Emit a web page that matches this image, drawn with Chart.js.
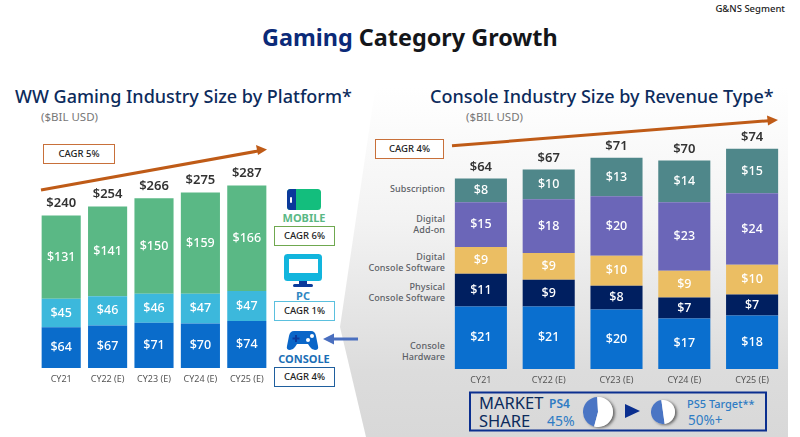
<!DOCTYPE html>
<html>
<head>
<meta charset="utf-8">
<script src="https://cdn.jsdelivr.net/npm/chart.js@4/dist/chart.umd.min.js"></script>
<style>
  html, body { margin: 0; padding: 0; background: #fff; }
  #page { position: relative; width: 800px; height: 437px; overflow: hidden; font-family: "Noto Sans", sans-serif; color: #222; }
  #page > * { position: absolute; }
  .t { white-space: nowrap; line-height: 1; }
  .heading { font-size: 18px; font-weight: 500; color: #0c2b5c; }
  .unit { font-size: 11.5px; color: #777; }
  .cagr { box-sizing: border-box; background: #fff; border: 1.5px solid #000; font-size: 9.5px; font-weight: 500; text-align: center; color: #222; }
  .plat { font-size: 11px; font-weight: 700; transform: translateX(-50%); }
  .row { font-size: 9px; font-weight: 500; color: #5c5f66; text-align: right; line-height: 10.5px; letter-spacing: .1px; white-space: nowrap; right: 355px; }
  .ms { color: #2f7cc4; }
</style>
</head>
<body>
<div id="page">
  <div style="left:0;top:0;width:800px;height:437px;background:linear-gradient(180deg,#fff 20%,#f3f3f3 50%,#dcdcdc 85%,#d8d8d8 100%);clip-path:polygon(378px 70px,788px 70px,788px 437px,366px 437px,340px 327px);"></div>

  <div class="t" style="right:15px;top:4px;font-size:9.5px;font-weight:500;color:#222;">G&amp;NS Segment</div>
  <div class="t" style="left:262px;top:26px;font-size:23.4px;font-weight:700;color:#14161a;"><span style="color:#0b2a78;">Gaming</span> Category Growth</div>

  <div class="t heading" style="left:15px;top:87px;">WW Gaming Industry Size by Platform*</div>
  <div class="t unit" style="left:41px;top:111px;">($BIL USD)</div>
  <div class="t heading" style="left:430px;top:87px;">Console Industry Size by Revenue Type*</div>
  <div class="t unit" style="left:466px;top:111px;">($BIL USD)</div>

  <svg style="left:0;top:0;" width="800" height="437">
    <!-- fleches CAGR -->
    <line x1="41" y1="190" x2="258" y2="151" stroke="#bf5b17" stroke-width="3"/>
    <polygon points="267,149.5 256,145 258,155" fill="#bf5b17"/>
    <line x1="452" y1="145.8" x2="769" y2="120.7" stroke="#bf5b17" stroke-width="3"/>
    <polygon points="778,120 767,115.5 768,125.5" fill="#bf5b17"/>

    <!-- icone mobile -->
    <rect x="287" y="189" width="34" height="21" rx="3.5" fill="#13be7d"/>
    <path d="M296 189 h-5.5 a3.5 3.5 0 0 0 -3.5 3.5 v14 a3.5 3.5 0 0 0 3.5 3.5 h5.5 z" fill="#0b3a9b"/>
    <rect x="290" y="197" width="2" height="6" rx="1" fill="#fff"/>
    <!-- icone pc -->
    <rect x="284" y="254" width="38" height="27" rx="3.5" fill="#12b5dd"/>
    <rect x="289" y="259" width="29" height="14" fill="#fff"/>
    <rect x="299" y="281" width="8" height="4" fill="#0b3a9b"/>
    <rect x="293" y="284" width="20" height="3" rx="1.5" fill="#0b3a9b"/>
    <!-- icone console -->
    <path d="M294 331 h17 q4 0 5 5 l2 10 q1 4 -3 4 q-3 0 -5 -3 l-2 -3 h-11 l-2 3 q-2 3 -5 3 q-4 0 -3 -4 l2 -10 q1 -5 5 -5 z" fill="#0a66c8"/>
    <rect x="295" y="335" width="2" height="7" fill="#0b3a9b"/>
    <rect x="292.5" y="337.5" width="7" height="2" fill="#0b3a9b"/>
    <circle cx="312" cy="336" r="2" fill="#fff"/>
    <circle cx="308" cy="340" r="2" fill="#fff"/>
    <!-- fleche vers console -->
    <line x1="358" y1="339" x2="332" y2="339" stroke="#4a6fbf" stroke-width="3"/>
    <polygon points="323,339 334,333.5 334,344.5" fill="#4a6fbf"/>

    <!-- cadre part de marche -->
    <rect x="470" y="392.5" width="296" height="38" fill="none" stroke="#0b2f8f" stroke-width="2"/>
    <polygon points="625,404 640,411 625,418" fill="#0b2f8f"/>
  </svg>

  <div class="cagr" style="left:43px;top:144px;width:72px;height:20px;line-height:17px;border-color:#c8703a;">CAGR 5%</div>
  <div class="cagr" style="left:375px;top:139px;width:69px;height:20px;line-height:17px;border-color:#c8703a;">CAGR 4%</div>

  <div class="t plat" style="left:304px;top:212px;color:#5ab885;">MOBILE</div>
  <div class="cagr" style="left:274px;top:226px;width:61px;height:20px;line-height:17px;border-color:#6fa84f;">CAGR 6%</div>
  <div class="t plat" style="left:303px;top:290px;color:#2e86c1;">PC</div>
  <div class="cagr" style="left:274px;top:301px;width:61px;height:20px;line-height:17px;border-color:#5bc0de;">CAGR 1%</div>
  <div class="t plat" style="left:304px;top:353px;color:#1b6eb5;">CONSOLE</div>
  <div class="cagr" style="left:274px;top:367px;width:61px;height:20px;line-height:17px;border-color:#1f5f9e;">CAGR 4%</div>

  <div class="row" style="top:184px;">Subscription</div>
  <div class="row" style="top:214px;">Digital<br>Add-on</div>
  <div class="row" style="top:252px;">Digital<br>Console Software</div>
  <div class="row" style="top:282px;">Physical<br>Console Software</div>
  <div class="row" style="top:341px;">Console<br>Hardware</div>

  <canvas id="chart_platform" width="232" height="240" style="left:38px;top:150px;"></canvas>
  <canvas id="chart_revenue" width="339" height="281" style="left:447px;top:110px;"></canvas>

  <div class="t" style="left:479px;top:394px;font-size:16.5px;font-weight:400;color:#0c2b5c;line-height:17.5px;">MARKET<br>SHARE</div>
  <div class="t ms" style="left:549px;top:398px;font-size:12px;font-weight:600;">PS4</div>
  <div class="t ms" style="left:547px;top:414px;font-size:14px;">45%</div>
  <div class="t ms" style="left:687px;top:398px;font-size:11px;font-weight:500;">PS5 Target**</div>
  <div class="t ms" style="left:688px;top:414px;font-size:13.5px;">50%+</div>

  <div style="left:583px;top:397px;width:30px;height:30px;border-radius:50%;box-shadow:2px 1px 3px #666;">
    <canvas id="chart_ps4" width="30" height="30"></canvas>
  </div>
  <div style="left:651px;top:400px;width:24px;height:24px;border-radius:50%;box-shadow:2px 1px 3px #666;">
    <canvas id="chart_ps5" width="24" height="24"></canvas>
  </div>
</div>

<script>
    "use strict";

    var categories = ['CY21', 'CY22 (E)', 'CY23 (E)', 'CY24 (E)', 'CY25 (E)'];

    // WW Gaming Industry Size by Platform
    var platformConsole = [64, 67, 71, 70, 74];
    var platformPc = [45, 46, 46, 47, 47];
    var platformMobile = [131, 141, 150, 159, 166];
    var platformTotals = [240, 254, 266, 275, 287];

    // Console Industry Size by Revenue Type
    var revenueHardware = [21, 21, 20, 17, 18];
    var revenuePhysical = [11, 9, 8, 7, 7];
    var revenueDigitalSoftware = [9, 9, 10, 9, 10];
    var revenueAddOn = [15, 18, 20, 23, 24];
    var revenueSubscription = [8, 10, 13, 14, 15];
    var revenueTotals = [64, 67, 71, 70, 74];

    // Market share
    var ps4Share = [45, 55];
    var ps5Share = [50, 50];

    Chart.defaults.animation = false;
    Chart.defaults.font.family = '"Noto Sans", sans-serif';

    // Valeurs dans les barres et totaux au dessus
    var barLabels = {
        id: 'barLabels',
        afterDatasetsDraw: function (chart) {
            var ctx = chart.ctx;
            var totals = chart.options.plugins.barLabels.totals;
            var gap = chart.options.plugins.barLabels.gap;
            ctx.save();
            ctx.textAlign = 'center';
            ctx.textBaseline = 'middle';
            chart.data.datasets.forEach(function (dataset, i) {
                chart.getDatasetMeta(i).data.forEach(function (bar, j) {
                    ctx.fillStyle = '#fff';
                    ctx.font = '500 12.5px "Noto Sans"';
                    ctx.fillText('$' + dataset.data[j], bar.x, bar.y + bar.height / 2);
                    if (i === chart.data.datasets.length - 1) {
                        ctx.fillStyle = '#333';
                        ctx.font = '600 13px "Noto Sans"';
                        ctx.fillText('$' + totals[j], bar.x, bar.y - gap);
                    }
                });
            });
            ctx.restore();
        }
    };

    function stackedBars(id, datasets, totals, maxValue, barShare, gap) {
        new Chart(id, {
            type: 'bar',
            data: { labels: categories, datasets: datasets },
            options: {
                responsive: false,
                layout: { padding: 0 },
                datasets: { bar: { barPercentage: barShare, categoryPercentage: 1 } },
                plugins: {
                    legend: { display: false },
                    tooltip: { enabled: false },
                    barLabels: { totals: totals, gap: gap }
                },
                scales: {
                    x: {
                        stacked: true,
                        grid: { display: false },
                        border: { display: false },
                        ticks: { color: '#555', font: { size: 9 }, padding: -2, maxRotation: 0, autoSkip: false },
                        afterFit: function (axis) { axis.height = 22; }
                    },
                    y: { stacked: true, display: false, min: 0, max: maxValue }
                }
            },
            plugins: [barLabels]
        });
    }

    stackedBars('chart_platform', [
        { label: 'Console', data: platformConsole, backgroundColor: '#0a6ccb' },
        { label: 'PC', data: platformPc, backgroundColor: '#3cb8dc' },
        { label: 'Mobile', data: platformMobile, backgroundColor: '#5ab885' }
    ], platformTotals, 343, 0.843, 12);

    stackedBars('chart_revenue', [
        { label: 'Console Hardware', data: revenueHardware, backgroundColor: '#0a6fcf' },
        { label: 'Physical Console Software', data: revenuePhysical, backgroundColor: '#001f60' },
        { label: 'Digital Console Software', data: revenueDigitalSoftware, backgroundColor: '#ebbe63' },
        { label: 'Digital Add-on', data: revenueAddOn, backgroundColor: '#6b66b8' },
        { label: 'Subscription', data: revenueSubscription, backgroundColor: '#4f878a' }
    ], revenueTotals, 87, 0.768, 11.5);

    function sharePie(id, values, rotation) {
        new Chart(id, {
            type: 'pie',
            data: { datasets: [{ data: values, backgroundColor: ['#4a75c4', '#ffffff'], borderWidth: 0 }] },
            options: {
                responsive: false,
                rotation: rotation,
                plugins: { legend: { display: false }, tooltip: { enabled: false } }
            }
        });
    }

    sharePie('chart_ps4', ps4Share, 195);
    sharePie('chart_ps5', ps5Share, 172);
</script>
</body>
</html>
